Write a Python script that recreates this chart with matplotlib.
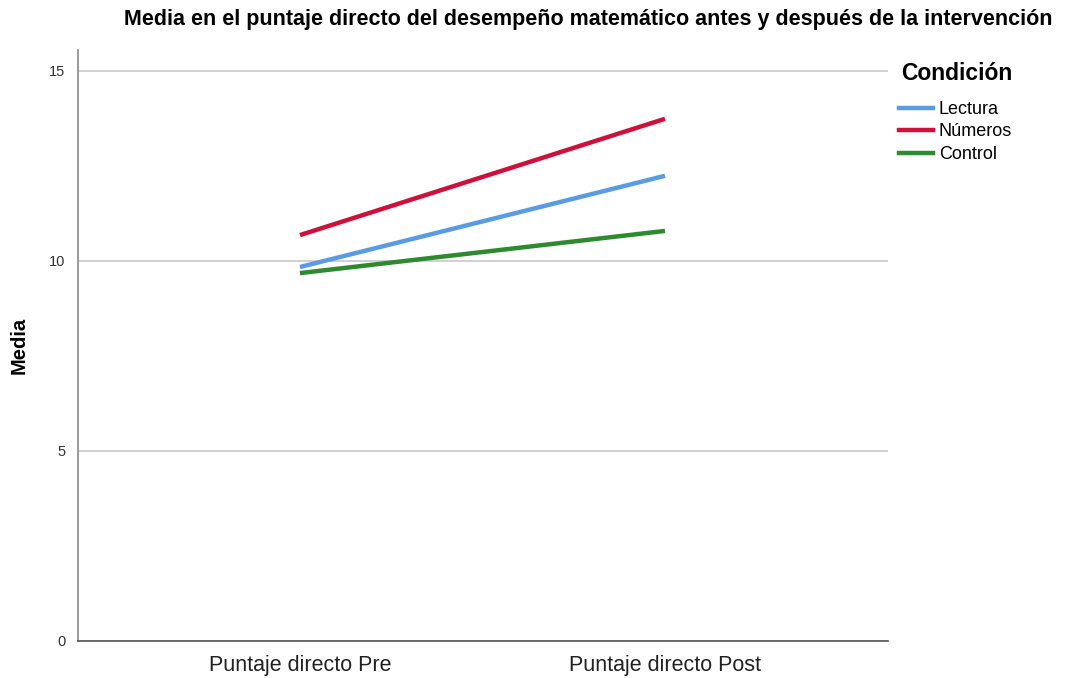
import matplotlib
matplotlib.use("Agg")
import matplotlib.pyplot as plt
from matplotlib.lines import Line2D

plt.rcParams["font.family"] = ["Liberation Sans", "DejaVu Sans"]

# Datos
momentos = ["Puntaje directo Pre", "Puntaje directo Post"]
lectura = [9.84, 12.24]
numeros = [10.68, 13.74]
control = [9.68, 10.79]
grupos = ["Lectura", "Números", "Control"]
colores = ["#5b9be4", "#d0103a", "#2e8a2e"]

fig = plt.figure(figsize=(10.79, 6.78), dpi=100)
ax = fig.add_axes([78 / 1079, 1 - 641 / 678, 810 / 1079, 591 / 678])

x = list(range(len(momentos)))
for serie, nombre, color in zip([lectura, numeros, control], grupos, colores):
    ax.plot(x, serie, color=color, lw=3.2, label=nombre, solid_capstyle="butt")

ax.set_xlim(-0.608, 1.611)
ax.set_ylim(0, 15.55)
ax.set_yticks([0, 5, 10, 15])
ax.set_xticks(x)
ax.set_xticklabels(momentos, fontsize=15.5, color="#222222")
ax.tick_params(axis="y", labelsize=10.5, colors="#333333", length=0, pad=9)
ax.tick_params(axis="x", length=0, pad=10)
ax.yaxis.grid(True, color="#c8c8c8", lw=1.2)
ax.set_axisbelow(True)
for s in ["top", "right"]:
    ax.spines[s].set_visible(False)
ax.spines["left"].set_color("#8a8a8a")
ax.spines["bottom"].set_color("#555555")
ax.spines["left"].set_linewidth(1.2)
ax.spines["bottom"].set_linewidth(1.2)

ax.set_ylabel("Media", fontsize=14.5, fontweight="bold")
ax.yaxis.set_label_coords(-0.0605, 0.5)

fig.text(588 / 1079, 1 - 20 / 678, "Media en el puntaje directo del desempeño matemático antes y después de la intervención",
         ha="center", va="center", fontsize=15.5, fontweight="bold")

# Leyenda
fig.text(901 / 1079, 1 - 73 / 678, "Condición", ha="left", va="center",
         fontsize=16.5, fontweight="bold")
handles = [Line2D([], [], color=c, lw=3.2) for c in colores]
fig.legend(handles, grupos, loc="upper left",
           bbox_to_anchor=(899 / 1079, 1 - 101 / 678), frameon=False,
           fontsize=13, borderpad=0, borderaxespad=0,
           handlelength=1.9, handletextpad=0.3, labelspacing=0.3)

fig.savefig("out.png", dpi=100)
